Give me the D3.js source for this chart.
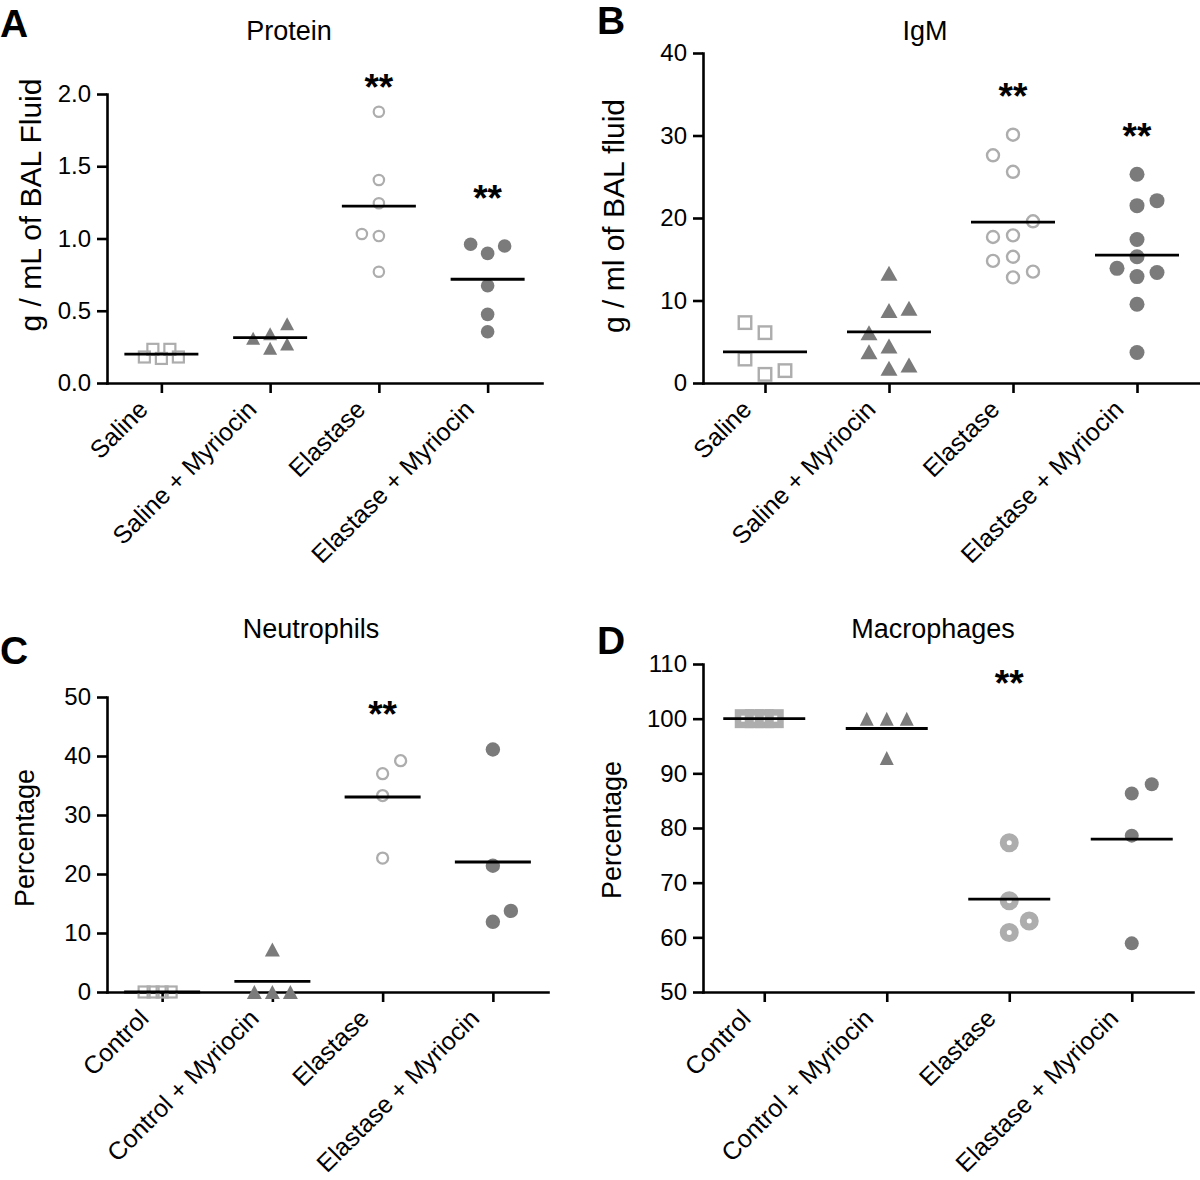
<!DOCTYPE html>
<html><head><meta charset="utf-8">
<script src="https://cdn.jsdelivr.net/npm/d3@7"></script>
<style>body{margin:0;background:#fff}svg{display:block}</style></head>
<body><svg id="chart" width="1200" height="1180"></svg>
<script>
// ---------------- data ----------------
// Panel A: Protein (g / mL of BAL fluid)
const proteinCategories = ["Saline", "Saline + Myriocin", "Elastase", "Elastase + Myriocin"];
const proteinSaline = [0.17, 0.233, 0.233, 0.18, 0.18];
const proteinSalineMyr = [0.34, 0.24, 0.31, 0.27, 0.41];
const proteinElastase = [1.877, 1.405, 1.244, 1.017, 1.031, 0.77];
const proteinElastaseMyr = [0.355, 0.475, 0.673, 0.897, 0.96, 0.948];
const proteinTicks = [0, 0.5, 1.0, 1.5, 2.0];
const proteinSig = ["", "", "**", "**"];
const proteinSigAt = [null, null, 2.12, 1.35];

// Panel B: IgM (g / ml of BAL fluid)
const igmCategories = ["Saline", "Saline + Myriocin", "Elastase", "Elastase + Myriocin"];
const igmSaline = [6.1, 7.32, 1.05, 1.5, 2.9];
const igmSalineMyr = [13.3, 4.5, 3.8, 8.8, 9.06, 6.1, 1.78, 2.18];
const igmElastase = [30.1, 25.6, 27.6, 17.9, 19.6, 17.7, 15.3, 14.8, 13.5, 12.8];
const igmElastaseMyr = [25.3, 21.5, 17.4, 12.9, 13.9, 22.1, 13.4, 15.3, 9.55, 3.7];
const igmTicks = [0, 10, 20, 30, 40];
const igmSig = ["", "", "**", "**"];
const igmSigAt = [null, null, 36.0, 31.1];

// Panel C: Neutrophils (%)
const neutCategories = ["Control", "Control + Myriocin", "Elastase", "Elastase + Myriocin"];
const neutControl = [0, 0, 0, 0];
const neutControlMyr = [7.2, 0, 0, 0];
const neutElastase = [37.0, 39.2, 33.3, 22.7];
const neutElastaseMyr = [41.1, 21.4, 11.9, 13.75];
const neutTicks = [0, 10, 20, 30, 40, 50];
const neutSig = ["", "", "**", ""];
const neutSigAt = [null, null, 48.8, null];

// Panel D: Macrophages (%)
const macroCategories = ["Control", "Control + Myriocin", "Elastase", "Elastase + Myriocin"];
const macroControl = [100, 100, 100, 100];
const macroControlMyr = [100, 100, 100, 92.8];
const macroElastase = [77.3, 66.7, 60.9, 63.0];
const macroElastaseMyr = [86.3, 88.0, 78.6, 58.9];
const macroTicks = [50, 60, 70, 80, 90, 100, 110];
const macroSig = ["", "", "**", ""];
const macroSigAt = [null, null, 108.3, null];

// ---------------- drawing ----------------
const FONT = "'Liberation Sans', Arial, Helvetica, sans-serif";
const LIGHT = "#adadad", DARK = "#7b7b7b";
const svg = d3.select("#chart");
svg.append("rect").attr("width", 1200).attr("height", 1180).attr("fill", "#fff");

// simple beeswarm: place each point (in given order) at the offset closest to the centre
function swarm(values, y, W, H, firstSide) {
  const placed = [];
  let ties = 0;
  values.forEach(v => {
    const py = y(v);
    const cands = [0];
    placed.forEach(q => { if (Math.abs(q.py - py) < H) cands.push(q.dx - W, q.dx + W); });
    const ok = c => placed.every(q => !(Math.abs(q.dx - c) < W - 0.01 && Math.abs(q.py - py) < H));
    const valid = cands.filter(ok);
    const m = d3.min(valid, c => Math.abs(c));
    const atMin = valid.filter(c => Math.abs(Math.abs(c) - m) < 0.01);
    let best = atMin[0];
    const sides = new Set(atMin.map(c => Math.sign(c)));
    if (sides.size > 1) {
      const side = ties % 2 === 0 ? firstSide : -firstSide;
      best = atMin.find(c => Math.sign(c) === side);
      ties++;
    }
    placed.push({ v, py, dx: best });
  });
  const maxOff = d3.max(placed, q => Math.abs(q.dx));
  if (maxOff > W) placed.forEach(q => { q.dx *= W / maxOff; });
  return placed;
}

function drawMarker(g, kind, cx, cy, s) {
  switch (kind) {
    case "square":
      g.append("rect").attr("x", cx - s.sq / 2).attr("y", cy - s.sq / 2)
        .attr("width", s.sq).attr("height", s.sq)
        .attr("fill", "none").attr("stroke", LIGHT).attr("stroke-width", s.sqStroke);
      break;
    case "triangle":
      g.append("path")
        .attr("d", `M${cx},${cy - s.th / 2}L${cx + s.tw / 2},${cy + s.th / 2}L${cx - s.tw / 2},${cy + s.th / 2}Z`)
        .attr("fill", DARK);
      break;
    case "open":
      g.append("circle").attr("cx", cx).attr("cy", cy).attr("r", s.oc)
        .attr("fill", "none").attr("stroke", LIGHT).attr("stroke-width", s.ocStroke);
      break;
    case "dot":
      g.append("circle").attr("cx", cx).attr("cy", cy).attr("r", s.dot).attr("fill", DARK);
      break;
  }
}

function drawPanel(p) {
  const g = svg.append("g");
  const x = d3.scalePoint().domain(p.categories).range([p.left, p.right]).padding(0.5);
  const y = d3.scaleLinear().domain([p.ticks[0], p.ticks[p.ticks.length - 1]]).range([p.bottom, p.top]);

  // axes
  const ya = g.append("g").attr("transform", `translate(${p.left},0)`)
    .call(d3.axisLeft(y).tickValues(p.ticks).tickFormat(d3.format(p.fmt))
      .tickSize(10).tickSizeOuter(0).tickPadding(6));
  const xa = g.append("g").attr("transform", `translate(0,${p.bottom})`)
    .call(d3.axisBottom(x).tickSize(10).tickSizeOuter(0).tickFormat(""));
  [ya, xa].forEach(a => {
    a.select(".domain").attr("stroke", "#000").attr("stroke-width", 2.6).attr("stroke-linecap", "square");
    a.selectAll(".tick line").attr("stroke", "#000").attr("stroke-width", 2.6);
  });
  ya.selectAll(".tick text").attr("font-family", FONT).attr("font-size", 24).attr("fill", "#000");

  // rotated category labels
  g.selectAll(".xl").data(p.categories).join("text")
    .attr("transform", d => `translate(${x(d) - 12},${p.bottom + 28}) rotate(-45)`)
    .attr("text-anchor", "end").attr("font-family", FONT).attr("font-size", 25)
    .text(d => d);

  // points
  p.groups.forEach((vals, i) => {
    const cx = x(p.categories[i]);
    const pts = swarm(vals, y, p.slot, p.rowH, p.firstSide);
    const gg = g.append("g");
    pts.forEach(q => drawMarker(gg, p.kinds[i], cx + q.dx, q.py, p.sizes));
    // mean line
    const m = d3.mean(vals);
    g.append("line").attr("x1", cx - p.meanHalf).attr("x2", cx + p.meanHalf)
      .attr("y1", y(m)).attr("y2", y(m)).attr("stroke", "#000").attr("stroke-width", 2.8);
  });

  // significance marks
  p.sig.forEach((s, i) => {
    if (!s) return;
    g.append("text").attr("x", x(p.categories[i])).attr("y", y(p.sigAt[i]))
      .attr("dy", "0.62em").attr("text-anchor", "middle")
      .attr("font-family", FONT).attr("font-weight", "bold").attr("font-size", 37).text(s);
  });

  // title, axis label, panel letter
  g.append("text").attr("x", p.titleX).attr("y", p.titleY).attr("text-anchor", "middle")
    .attr("font-family", FONT).attr("font-size", 27).text(p.title);
  g.append("text").attr("transform", `translate(${p.labelX},${p.labelY}) rotate(-90)`)
    .attr("text-anchor", "middle").attr("font-family", FONT).attr("font-size", p.labelSize).text(p.yLabel);
  g.append("text").attr("x", p.letterX).attr("y", p.letterY)
    .attr("font-family", FONT).attr("font-weight", "bold").attr("font-size", 39).text(p.letter);
}

const kinds = ["square", "triangle", "open", "dot"];

drawPanel({
  letter: "A", letterX: 0, letterY: 37, title: "Protein", titleX: 289, titleY: 40,
  yLabel: "g / mL of BAL Fluid", labelX: 41, labelY: 205, labelSize: 30,
  categories: proteinCategories, groups: [proteinSaline, proteinSalineMyr, proteinElastase, proteinElastaseMyr],
  ticks: proteinTicks, fmt: ".1f", sig: proteinSig, sigAt: proteinSigAt, kinds,
  left: 107, right: 542, top: 94, bottom: 383, slot: 17, rowH: 11, firstSide: -1, meanHalf: 37,
  sizes: { sq: 11, sqStroke: 2.2, tw: 14, th: 13, oc: 5.2, ocStroke: 2.2, dot: 6.8 }
});

drawPanel({
  letter: "B", letterX: 597, letterY: 34, title: "IgM", titleX: 925, titleY: 40,
  yLabel: "g / ml of BAL fluid", labelX: 624, labelY: 216, labelSize: 30,
  categories: igmCategories, groups: [igmSaline, igmSalineMyr, igmElastase, igmElastaseMyr],
  ticks: igmTicks, fmt: "d", sig: igmSig, sigAt: igmSigAt, kinds,
  left: 703, right: 1199, top: 53, bottom: 383, slot: 20, rowH: 17, firstSide: -1, meanHalf: 42,
  sizes: { sq: 12.5, sqStroke: 2.4, tw: 17, th: 15, oc: 6, ocStroke: 2.4, dot: 7.5 }
});

drawPanel({
  letter: "C", letterX: 0, letterY: 664, title: "Neutrophils", titleX: 311, titleY: 638,
  yLabel: "Percentage", labelX: 34, labelY: 838, labelSize: 27,
  categories: neutCategories, groups: [neutControl, neutControlMyr, neutElastase, neutElastaseMyr],
  ticks: neutTicks, fmt: "d", sig: neutSig, sigAt: neutSigAt, kinds,
  left: 107, right: 548, top: 697, bottom: 992, slot: 18, rowH: 15, firstSide: 1, meanHalf: 38,
  sizes: { sq: 11, sqStroke: 2.2, tw: 15, th: 14, oc: 5.5, ocStroke: 2.3, dot: 7.2 }
});

drawPanel({
  letter: "D", letterX: 597, letterY: 654, title: "Macrophages", titleX: 933, titleY: 638,
  yLabel: "Percentage", labelX: 621, labelY: 830, labelSize: 27,
  categories: macroCategories, groups: [macroControl, macroControlMyr, macroElastase, macroElastaseMyr],
  ticks: macroTicks, fmt: "d", sig: macroSig, sigAt: macroSigAt, kinds,
  left: 703, right: 1193, top: 664, bottom: 992, slot: 20, rowH: 21, firstSide: 1, meanHalf: 41,
  sizes: { sq: 12.5, sqStroke: 6.5, tw: 14, th: 14, oc: 6, ocStroke: 7, dot: 7 }
});
</script>
</body></html>
